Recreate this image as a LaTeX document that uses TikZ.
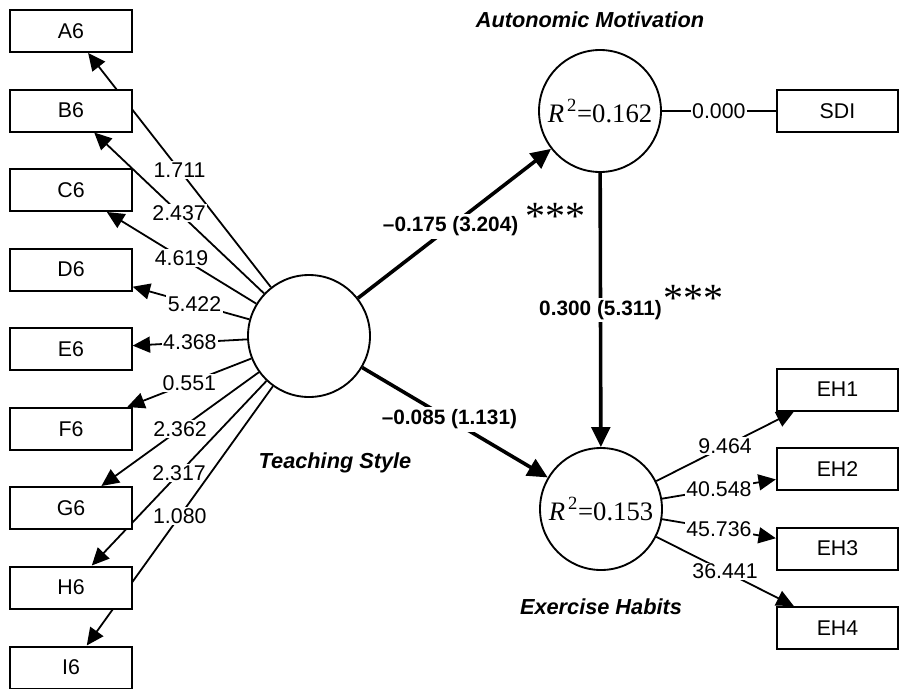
\documentclass[tikz,border=0pt]{standalone}
\usepackage{fontspec}
\setmainfont{Liberation Sans}
\newfontfamily\timesfont{Liberation Serif}
\usepackage{tikz}
\usetikzlibrary{arrows.meta, backgrounds}

\tikzset{
  item/.style={draw, line width=1.5pt, fill=white, minimum width=91pt,
    minimum height=31.5pt, inner sep=0pt, font=\fontsize{16}{19}\selectfont},
  latent/.style={draw, circle, line width=1.4pt, fill=white,
    minimum size=91.5pt, inner sep=0pt},
  loading/.style={line width=1.35pt, -{Triangle[length=13pt, width=12pt]}},
  effect/.style={line width=2.7pt, -{Triangle[length=15pt, width=14pt]}},
  val/.style={fill=white, inner sep=1pt, font=\fontsize{16}{19}\selectfont},
  coef/.style={fill=white, inner sep=2pt, font=\fontsize{15.6}{18}\selectfont\bfseries},
  stars/.style={inner sep=0pt, font=\timesfont\fontsize{30}{30}\selectfont},
  lvname/.style={anchor=base, font=\fontsize{16.3}{19}\selectfont\bfseries\itshape},
  rsq/.style={font=\timesfont\fontsize{20}{22}\selectfont}
}

\begin{document}
\begin{tikzpicture}[x=0.75pt, y=-0.75pt]
  \useasboundingbox (0,0) rectangle (900,689);

  % teaching style items
  \node[item] (A6) at (71,31) {A6};
  \node[item] (B6) at (71,110.5) {B6};
  \node[item] (C6) at (71,190) {C6};
  \node[item] (D6) at (71,269.5) {D6};
  \node[item] (E6) at (71,349) {E6};
  \node[item] (F6) at (71,429) {F6};
  \node[item] (G6) at (71,508) {G6};
  \node[item] (H6) at (71,587.5) {H6};
  \node[item] (I6) at (71,667.5) {I6};

  % constructs
  \node[latent] (TS) at (309,336) {};
  \node[latent, rsq] (AM) at (600,111) {\textit{R}\textsuperscript{\,2}=0.162};
  \node[latent, rsq] (EH) at (601,509) {\textit{R}\textsuperscript{\,2}=0.153};

  \node[lvname] at (335,468) {Teaching Style};
  \node[lvname] at (590,27) {Autonomic Motivation};
  \node[lvname] at (601,614) {Exercise Habits};

  % right-hand items
  \node[item] (SDI) at (837.5,111) {SDI};
  \node[item] (EH1) at (837.5,389.5) {EH1};
  \node[item] (EH2) at (837.5,469) {EH2};
  \node[item] (EH3) at (837.5,548.5) {EH3};
  \node[item] (EH4) at (837.5,628) {EH4};

  \begin{scope}[on background layer]
    \draw[loading] (TS) -- node[val] {1.711} (A6);
    \draw[loading] (TS) -- node[val] {2.437} (B6);
    \draw[loading] (TS) -- node[val] {4.619} (C6);
    \draw[loading] (TS) -- node[val, pos=.47] {5.422} (D6);
    \draw[loading] (TS) -- node[val] {4.368} (E6);
    \draw[loading] (TS) -- node[val] {0.551} (F6);
    \draw[loading] (TS) -- node[val] {2.362} (G6);
    \draw[loading] (TS) -- node[val] {2.317} (H6);
    \draw[loading] (TS) -- node[val] {1.080} (I6);

    \draw[line width=1.35pt] (AM) -- node[val] {0.000} (SDI);
    \draw[loading] (EH) -- node[val] {9.464} (EH1);
    \draw[loading] (EH) -- node[val] {40.548} (EH2);
    \draw[loading] (EH) -- node[val] {45.736} (EH3);
    \draw[loading] (EH) -- node[val] {36.441} (EH4);

    \draw[effect] (TS) -- node[coef, pos=.48] (b1) {--0.175 (3.204)} (AM);
    \draw[effect] (TS) -- node[coef, pos=.47] (b2) {--0.085 (1.131)} (EH);
    \draw[effect] (AM) -- node[coef] (b3) {0.300 (5.311)} (EH);
  \end{scope}

  \node[stars, anchor=base] at (555,229) {***};
  \node[stars, anchor=base] at (693,311) {***};
\end{tikzpicture}
\end{document}
